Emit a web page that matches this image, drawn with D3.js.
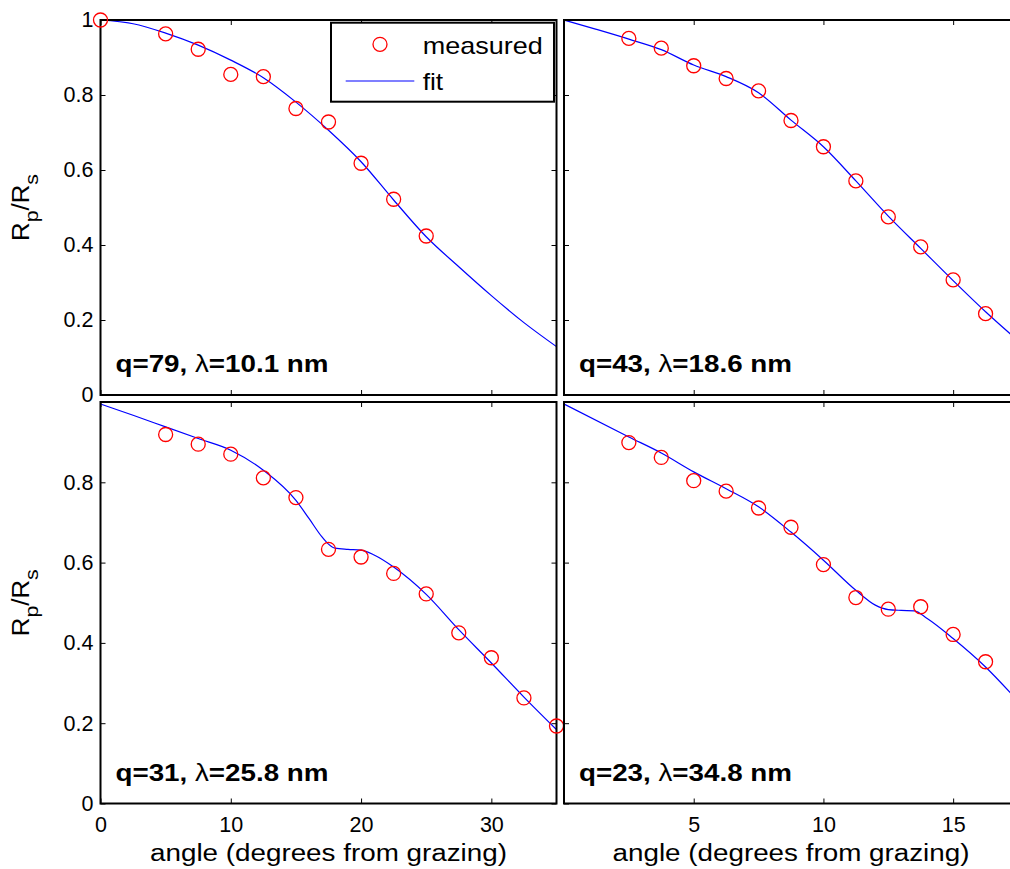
<!DOCTYPE html>
<html><head><meta charset="utf-8">
<script src="https://cdn.jsdelivr.net/npm/d3@7"></script>
<style>body{margin:0;background:#fff} text{font-family:"Liberation Sans",Arial,Helvetica,sans-serif}</style>
</head><body><svg id="c" width="1010" height="869"></svg>
<script>
// ---- data ----
const yTicks = [0, 0.2, 0.4, 0.6, 0.8, 1];
const xTicksLeft = [0, 10, 20, 30];
const xTicksRight = [5, 10, 15];
const titles = ["q=79, ", "q=43, ", "q=31, ", "q=23, "];
const titleWaves = ["=10.1 nm", "=18.6 nm", "=25.8 nm", "=34.8 nm"];

const meas79X = [0, 5, 7.5, 10, 12.5, 15, 17.5, 20, 22.5, 25];
const meas79Y = [1.0, 0.963, 0.922, 0.855, 0.849, 0.764, 0.728, 0.618, 0.522, 0.424];
const fit79X = [0, 2.5, 5, 7.5, 10, 12.5, 15, 17.5, 20, 22.5, 25, 27.5, 30, 32.5, 35];
const fit79Y = [1.0, 0.99, 0.965, 0.933, 0.893, 0.846, 0.781, 0.706, 0.622, 0.52, 0.422, 0.342, 0.265, 0.193, 0.129];

const meas43X = [2.5, 3.75, 5, 6.25, 7.5, 8.75, 10, 11.25, 12.5, 13.75, 15, 16.25];
const meas43Y = [0.951, 0.925, 0.878, 0.844, 0.811, 0.732, 0.662, 0.571, 0.475, 0.395, 0.307, 0.217];
const fit43X = [0, 1.25, 2.5, 3.75, 5, 6.25, 7.5, 8.75, 10, 11.25, 12.5, 13.75, 15, 16.25, 17.5];
const fit43Y = [1.0, 0.975, 0.949, 0.921, 0.88, 0.849, 0.806, 0.733, 0.662, 0.571, 0.477, 0.391, 0.305, 0.222, 0.145];

const meas31X = [5, 7.5, 10, 12.5, 15, 17.5, 20, 22.5, 25, 27.5, 30, 32.5, 35];
const meas31Y = [0.919, 0.895, 0.870, 0.811, 0.762, 0.633, 0.614, 0.573, 0.522, 0.425, 0.363, 0.263, 0.193];
const fit31X = [0, 2.5, 5, 7.5, 10, 12.5, 15, 16, 17, 17.5, 18, 19, 20, 21, 22.5, 25, 27.5, 30, 32.5, 35];
const fit31Y = [0.995, 0.967, 0.938, 0.909, 0.880, 0.830, 0.755, 0.71, 0.664, 0.646, 0.636, 0.633, 0.631, 0.619, 0.589, 0.521, 0.433, 0.350, 0.265, 0.184];

const meas23X = [2.5, 3.75, 5, 6.25, 7.5, 8.75, 10, 11.25, 12.5, 13.75, 15, 16.25];
const meas23Y = [0.899, 0.862, 0.804, 0.778, 0.736, 0.688, 0.595, 0.513, 0.484, 0.490, 0.421, 0.353];
const fit23X = [0, 2.5, 3.75, 5, 6.25, 7.5, 8.75, 10, 11.25, 12, 12.5, 13, 13.5, 14, 15, 16.25, 17.5];
const fit23Y = [0.995, 0.913, 0.873, 0.826, 0.784, 0.739, 0.676, 0.606, 0.531, 0.494, 0.483, 0.481, 0.480, 0.461, 0.411, 0.340, 0.255];

// ---- layout ----
const svg = d3.select("#c");
svg.append("rect").attr("width", 1010).attr("height", 869).attr("fill", "#fff");
const colL = {x0: 100.5, x1: 556.5, dom: [0, 35], ticks: xTicksLeft};
const colR = {x0: 564, x1: 1018, dom: [0, 17.5], ticks: xTicksRight};
const rowT = {y0: 20, y1: 395};
const rowB = {y0: 402, y1: 803.5};

const panels = [
  {col: colL, row: rowT, mx: meas79X, my: meas79Y, fx: fit79X, fy: fit79Y, ylab: true, xlab: false, yt: yTicks},
  {col: colR, row: rowT, mx: meas43X, my: meas43Y, fx: fit43X, fy: fit43Y, ylab: false, xlab: false, yt: yTicks},
  {col: colL, row: rowB, mx: meas31X, my: meas31Y, fx: fit31X, fy: fit31Y, ylab: true, xlab: true, yt: yTicks.slice(0, 5)},
  {col: colR, row: rowB, mx: meas23X, my: meas23Y, fx: fit23X, fy: fit23Y, ylab: false, xlab: true, yt: yTicks.slice(0, 5)}
];
const fmt = d => String(+d.toFixed(1));

panels.forEach((p, i) => {
  const x = d3.scaleLinear().domain(p.col.dom).range([p.col.x0, p.col.x1]);
  const y = d3.scaleLinear().domain([0, 1]).range([p.row.y1, p.row.y0]);
  const g = svg.append("g");
  const cid = "clip" + i;
  svg.append("clipPath").attr("id", cid).append("rect")
    .attr("x", p.col.x0).attr("y", p.row.y0)
    .attr("width", p.col.x1 - p.col.x0).attr("height", p.row.y1 - p.row.y0);

  // axes (inward ticks on all sides)
  const axL = d3.axisLeft(y).tickValues(p.yt).tickSize(-5).tickPadding(7).tickFormat(p.ylab ? fmt : "");
  const axR = d3.axisRight(y).tickValues(p.yt).tickSize(-5).tickFormat("");
  const axB = d3.axisBottom(x).tickValues(p.col.ticks).tickSize(-5).tickPadding(13).tickFormat(p.xlab ? d3.format("d") : "");
  const axT = d3.axisTop(x).tickValues(p.col.ticks).tickSize(-5).tickFormat("");
  [[axL, `translate(${p.col.x0},0)`], [axR, `translate(${p.col.x1},0)`],
   [axB, `translate(0,${p.row.y1})`], [axT, `translate(0,${p.row.y0})`]].forEach(([ax, tr]) => {
    const a = g.append("g").attr("transform", tr).call(ax)
      .attr("font-size", null).attr("font-family", null);
    a.select(".domain").remove();
    a.selectAll("line").attr("stroke", "#000").attr("stroke-width", 1);
    a.selectAll("text").style("font-size", "21.5px").attr("fill", "#000")
      .style("font-family", '"Liberation Sans",Arial,sans-serif');
  });

  // fit line
  const line = d3.line().x(d => x(d[0])).y(d => y(d[1])).curve(d3.curveMonotoneX);
  g.append("path").datum(p.fx.map((v, k) => [v, p.fy[k]]))
    .attr("d", line).attr("fill", "none").attr("stroke", "#0000ff").attr("stroke-width", 1.2)
    .attr("clip-path", `url(#${cid})`);

  // box
  g.append("rect").attr("x", p.col.x0).attr("y", p.row.y0)
    .attr("width", p.col.x1 - p.col.x0).attr("height", p.row.y1 - p.row.y0)
    .attr("fill", "none").attr("stroke", "#000").attr("stroke-width", 2);

  // markers
  g.selectAll("circle.m").data(p.mx.map((v, k) => [v, p.my[k]])).enter().append("circle")
    .attr("cx", d => x(d[0])).attr("cy", d => y(d[1])).attr("r", 7)
    .attr("fill", "none").attr("stroke", "#ff0000").attr("stroke-width", 1.3);

  // panel annotation
  const t = g.append("text").attr("x", p.col.x0 + 15).attr("y", p.row.y1 - 23)
    .style("font-size", "23px").attr("font-weight", "bold").attr("fill", "#000")
    .attr("textLength", 213).attr("lengthAdjust", "spacingAndGlyphs");
  t.append("tspan").text(titles[i]);
  t.append("tspan").attr("font-weight", "normal").text("λ");
  t.append("tspan").text(titleWaves[i]);

  // y label
  if (p.ylab) {
    const cy = (p.row.y0 + p.row.y1) / 2;
    const yl = g.append("text").attr("transform", `translate(29,${cy}) rotate(-90)`)
      .attr("text-anchor", "middle").style("font-size", "23px").attr("fill", "#000")
      .attr("textLength", 67).attr("lengthAdjust", "spacingAndGlyphs");
    yl.append("tspan").text("R");
    yl.append("tspan").style("font-size", "19px").attr("dy", 9).text("p");
    yl.append("tspan").attr("dy", -9).text("/R");
    yl.append("tspan").style("font-size", "19px").attr("dy", 9).text("s");
  }
  // x label
  if (p.xlab) {
    g.append("text").attr("x", (p.col.x0 + p.col.x1) / 2).attr("y", 861)
      .attr("text-anchor", "middle").style("font-size", "23px").attr("fill", "#000")
      .attr("textLength", 357).attr("lengthAdjust", "spacingAndGlyphs")
      .text("angle (degrees from grazing)");
  }

  // legend in first panel
  if (i === 0) {
    const lg = g.append("g");
    lg.append("rect").attr("x", 331).attr("y", 22.7).attr("width", 223).attr("height", 79)
      .attr("fill", "#fff").attr("stroke", "#000").attr("stroke-width", 2);
    lg.append("circle").attr("cx", 380).attr("cy", 44.3).attr("r", 7)
      .attr("fill", "none").attr("stroke", "#ff0000").attr("stroke-width", 1.3);
    lg.append("line").attr("x1", 345.7).attr("x2", 414.3).attr("y1", 81).attr("y2", 81)
      .attr("stroke", "#0000ff").attr("stroke-width", 1.2);
    lg.append("text").attr("x", 422.7).attr("y", 54.3).style("font-size", "24px").attr("fill", "#000")
      .attr("textLength", 120).attr("lengthAdjust", "spacingAndGlyphs").text("measured");
    lg.append("text").attr("x", 422.7).attr("y", 90).style("font-size", "24px").attr("fill", "#000")
      .attr("textLength", 20.5).attr("lengthAdjust", "spacingAndGlyphs").text("fit");
  }
});
</script></body></html>
